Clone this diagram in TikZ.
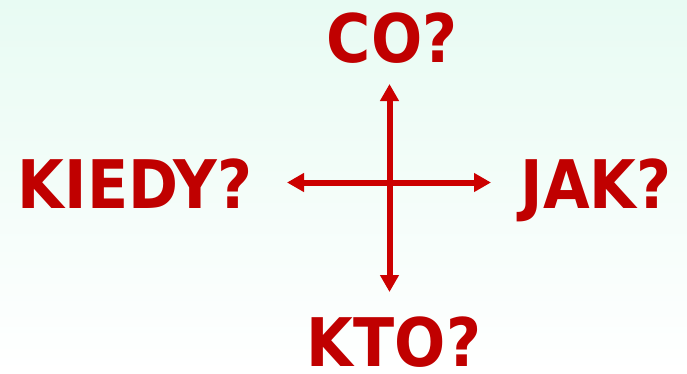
\documentclass[tikz,border=0pt]{standalone}
\usepackage{fontspec}
\setmainfont{DejaVu Sans Condensed}[BoldFont={DejaVu Sans Condensed Bold}]
\usetikzlibrary{arrows.meta}
\definecolor{lbl}{RGB}{192,0,0}
\definecolor{arr}{RGB}{204,0,0}
\definecolor{mint}{RGB}{232,251,243}
\tikzset{
  word/.style={text=lbl, font=\bfseries\fontsize{67}{67}\selectfont, inner sep=0pt, anchor=base},
  axis/.style={draw=arr, line width=6pt, {Triangle[length=17pt,width=18pt]}-{Triangle[length=17pt,width=18pt]}}
}
\begin{document}
\begin{tikzpicture}[x=1pt,y=-1pt]
\shade[top color=mint, bottom color=white] (0,0) rectangle (687,373);
\useasboundingbox (0,0) rectangle (687,373);
\node[word] (co) at (392,62) {CO?};
\node[word] (kto) at (394,366) {KTO?};
\node[word] (kiedy) at (135,208) {KIEDY?};
\node[word] (jak) at (596,208) {JAK?};
\coordinate (top) at (389.5,84);
\coordinate (bot) at (389.5,292);
\coordinate (lft) at (287,182.5);
\coordinate (rgt) at (491,182.5);
\draw[axis] (lft) -- (rgt);
\draw[axis] (top) -- (bot);
\end{tikzpicture}
\end{document}
